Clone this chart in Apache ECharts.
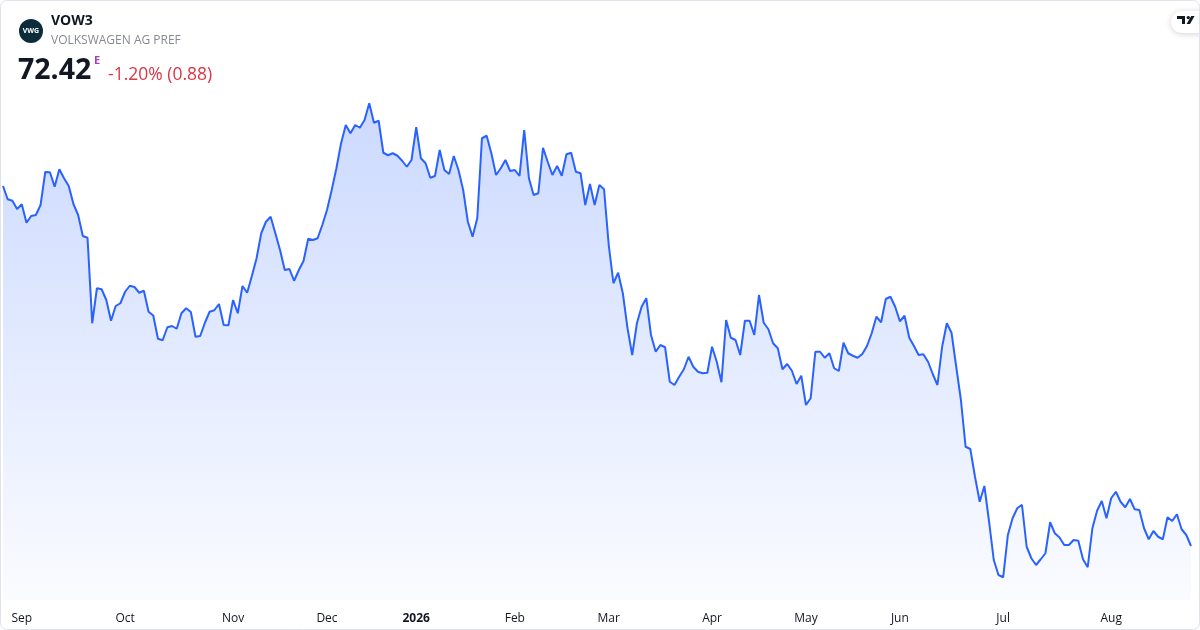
<!DOCTYPE html>
<html>
<head>
<meta charset="utf-8">
<script src="https://cdn.jsdelivr.net/npm/echarts@6/dist/echarts.min.js"></script>
<style>
html,body{margin:0;padding:0;background:#fff;}
#c{width:1200px;height:630px;}
</style>
</head>
<body>
<div id="c"></div>
<script>
// Trading calendar (Xetra) for the category axis
const startDate = '2025-08-26';
const endDate = '2026-08-26';
const holidays = ['2025-12-24','2025-12-25','2025-12-26','2025-12-31','2026-01-01','2026-04-03','2026-04-06','2026-05-01'];
const monthLabels = ['2026','Feb','Mar','Apr','May','Jun','Jul','Aug','Sep','Oct','Nov','Dec'];

// Daily close prices (EUR)
const prices = [
101.22,100.16,100.04,99.38,99.76,98.28,98.82,98.90,99.70,102.34,
102.32,101.16,102.56,101.84,101.22,99.78,98.90,97.22,97.08,90.24,
93.04,92.96,92.10,90.44,91.62,91.84,92.76,93.24,93.14,92.68,
92.84,91.16,90.86,89.00,88.88,89.92,90.02,89.80,91.04,91.44,
91.14,89.16,89.22,90.28,91.16,91.28,91.78,90.10,90.08,92.10,
91.04,93.22,92.68,94.02,95.44,97.44,98.36,98.76,97.44,96.10,
94.50,94.58,93.64,94.50,95.22,97.00,96.90,97.04,98.10,99.30,
100.90,102.64,104.64,106.10,105.44,106.10,105.88,106.50,107.84,106.28,
106.44,103.88,103.68,103.84,103.64,103.24,102.76,103.30,105.92,103.44,
103.04,101.88,102.02,104.10,102.50,102.18,103.62,102.50,100.90,98.36,
97.16,98.64,105.04,105.24,103.84,102.10,102.64,103.30,102.42,102.50,
102.02,105.70,101.84,100.50,100.64,104.28,103.16,102.10,102.82,102.04,
103.76,103.88,102.36,102.24,99.70,101.38,99.70,101.30,100.96,96.50,
93.44,94.28,92.64,89.84,87.70,90.24,91.56,92.24,89.30,87.96,
88.50,88.32,85.56,85.30,85.96,86.56,87.56,86.76,86.36,86.24,
86.28,88.36,87.16,85.52,90.50,89.08,88.90,87.70,90.44,90.44,
89.30,92.50,90.28,89.76,88.64,88.24,86.56,86.98,86.44,85.38,
86.04,83.70,84.24,87.96,87.96,87.48,87.84,86.64,86.42,88.68,
87.84,87.64,87.48,87.78,88.42,89.44,90.76,90.32,92.18,92.36,
91.56,90.40,90.84,89.08,88.42,87.70,87.76,87.16,86.18,85.30,
88.36,90.24,89.48,86.76,84.10,80.36,80.18,77.96,75.96,77.22,
74.36,71.30,70.10,69.92,73.30,74.64,75.44,75.72,72.36,71.44,
70.90,71.36,71.84,74.32,73.44,73.10,72.50,72.50,72.90,72.84,
71.36,70.72,73.84,75.24,76.02,74.64,76.24,76.76,75.96,75.52,
76.18,75.36,75.30,73.84,72.96,73.62,73.16,72.96,74.72,74.42,
74.96,73.76,73.30,72.42
];

// Build trading dates
const dates = [];
(function(){
  let d = new Date(startDate + 'T00:00:00Z');
  const e = new Date(endDate + 'T00:00:00Z');
  while (d <= e) {
    const s = d.toISOString().slice(0,10);
    const wd = d.getUTCDay();
    if (wd !== 0 && wd !== 6 && holidays.indexOf(s) < 0) dates.push(s);
    d = new Date(d.getTime() + 86400000);
  }
})();

function monthOf(s){ return parseInt(s.slice(5,7),10); }
function isMonthStart(i){ return i > 0 && monthOf(dates[i]) !== monthOf(dates[i-1]); }

const FONT = '"Open Sans", "Noto Sans", sans-serif';
const chart = echarts.init(document.getElementById('c'), null, {renderer:'canvas'});

chart.setOption({
  animation: false,
  backgroundColor: '#ffffff',
  grid: {left: 3, right: 9, top: 40, bottom: 30, containLabel: false},
  xAxis: {
    type: 'category',
    data: dates,
    boundaryGap: false,
    axisLine: {show: false},
    axisTick: {show: false},
    splitLine: {show: false},
    axisLabel: {
      interval: function(i){ return isMonthStart(i); },
      margin: 13,
      color: '#131722',
      fontSize: 12,
      fontFamily: FONT,
      formatter: function(v){
        const m = monthOf(v);
        const t = monthLabels[m - 1];
        return m === 1 ? '{b|' + t + '}' : t;
      },
      rich: {b: {fontWeight: 'bold', fontSize: 12, fontFamily: FONT, color: '#131722'}}
    }
  },
  yAxis: {
    type: 'value',
    min: 68.1,
    max: 112.9,
    show: false,
    splitLine: {show: false}
  },
  series: [{
    type: 'line',
    data: prices,
    showSymbol: false,
    symbol: 'none',
    lineStyle: {color: '#2962ff', width: 2},
    itemStyle: {color: '#2962ff'},
    areaStyle: {
      color: new echarts.graphic.LinearGradient(0, 0, 0, 1, [
        {offset: 0, color: 'rgba(41,98,255,0.34)'},
        {offset: 1, color: 'rgba(41,98,255,0.03)'}
      ])
    }
  }],
  graphic: [
    {type: 'rect', silent: true, z: 100, shape: {x: 0.5, y: 0.5, width: 1199, height: 629, r: 6},
     style: {fill: 'none', stroke: '#e0e3eb', lineWidth: 1}},
    // logo circle
    {type: 'circle', shape: {cx: 31, cy: 31, r: 12}, style: {fill: '#0c2c3b'}},
    {type: 'text', x: 31, y: 31, style: {text: 'VWG', fill: '#ffffff', font: 'bold 7px ' + FONT, align: 'center', verticalAlign: 'middle'}},
    {type: 'text', x: 51, y: 21, style: {text: 'VOW3', fill: '#131722', font: 'bold 14px ' + FONT, verticalAlign: 'middle'}},
    {type: 'text', x: 51, y: 41, style: {text: 'VOLKSWAGEN AG PREF', fill: '#868993', font: '12px ' + FONT, verticalAlign: 'middle'}},
    {type: 'text', x: 18, y: 71, style: {text: '72.42', fill: '#131722', font: 'bold 28.5px ' + FONT, verticalAlign: 'middle'}},
    {type: 'text', x: 94, y: 61, style: {text: 'E', fill: '#a040c0', font: 'bold 11px ' + FONT, verticalAlign: 'middle'}},
    {type: 'text', x: 108, y: 75, style: {text: '-1.20% (0.88)', fill: '#dc3545', font: '17.5px ' + FONT, verticalAlign: 'middle'}},
    // TradingView badge
    {type: 'rect', shape: {x: 1171, y: 11, width: 44, height: 22, r: 11},
     style: {fill: '#ffffff', shadowBlur: 6, shadowColor: 'rgba(0,0,0,0.18)', shadowOffsetY: 1}},
    {type: 'rect', shape: {x: 1177, y: 16, width: 8, height: 3}, style: {fill: '#131722'}},
    {type: 'rect', shape: {x: 1182, y: 16, width: 3, height: 8}, style: {fill: '#131722'}},
    {type: 'circle', shape: {cx: 1188.3, cy: 17.6, r: 1.7}, style: {fill: '#131722'}},
    {type: 'polygon', shape: {points: [[1191.2,16],[1194.6,16],[1190,24],[1186.6,24]]}, style: {fill: '#131722'}}
  ]
});
</script>
</body>
</html>
